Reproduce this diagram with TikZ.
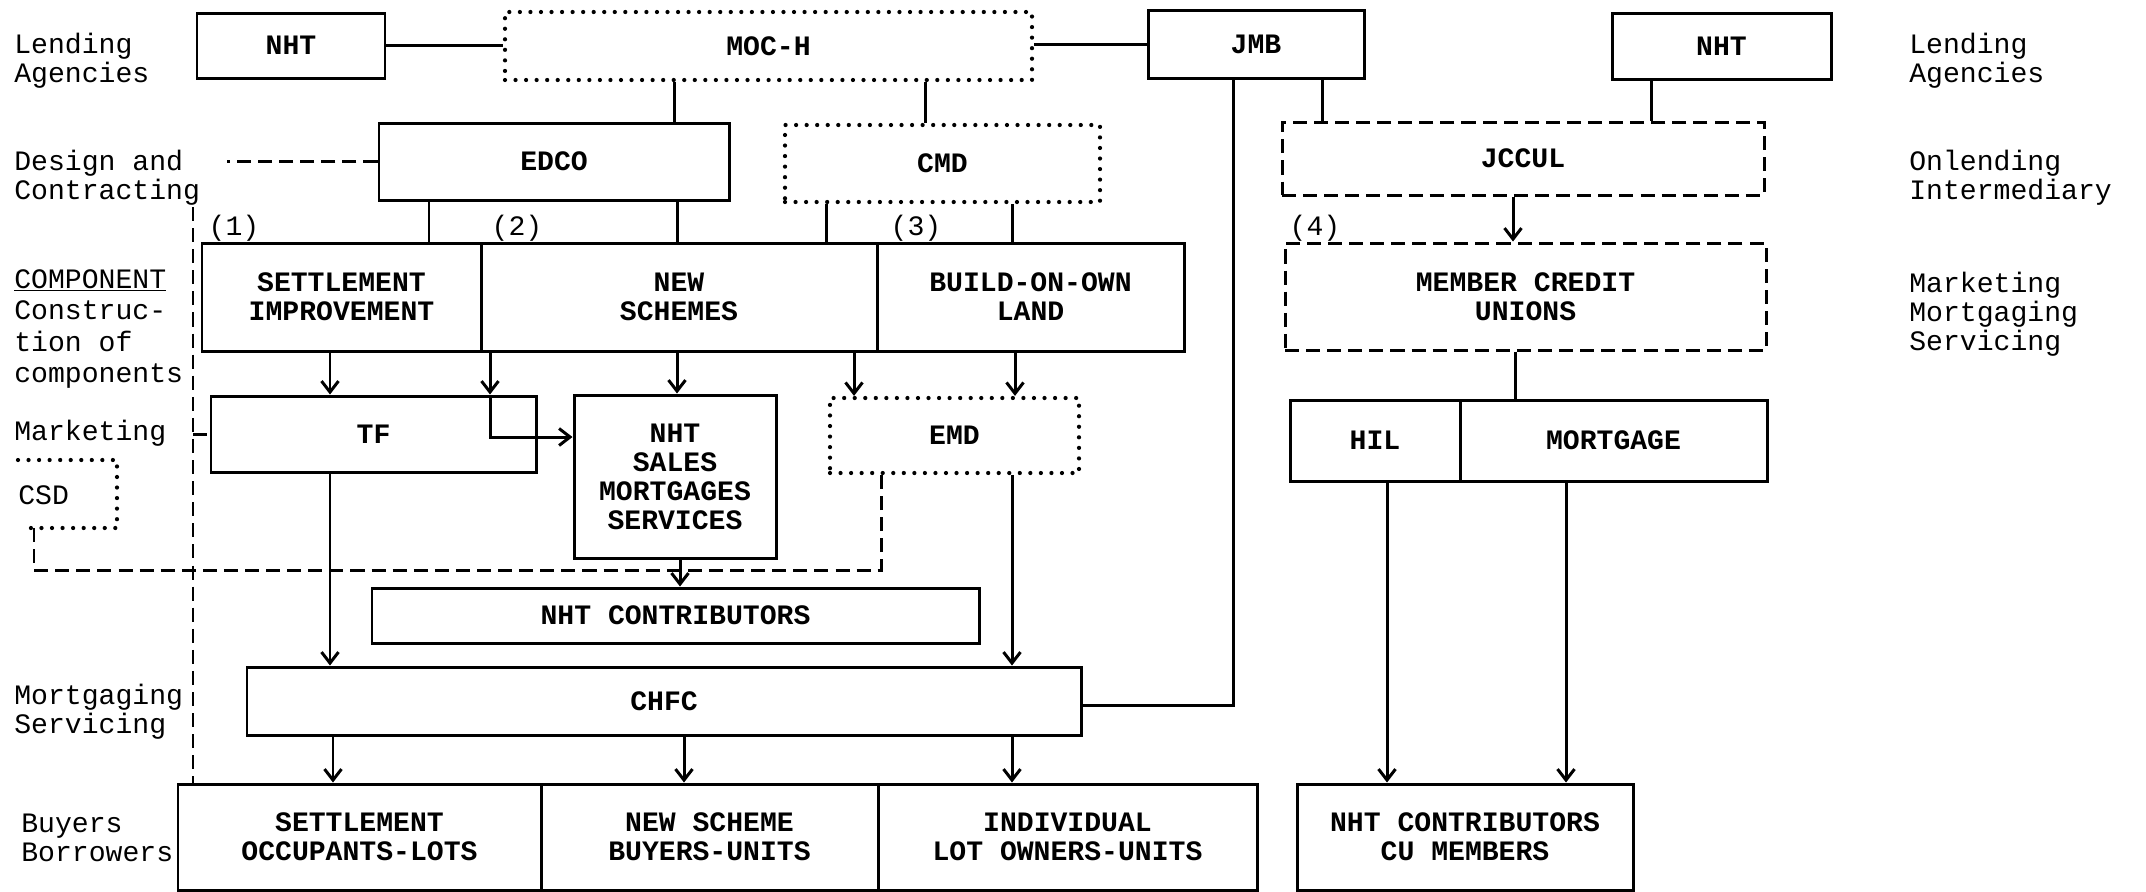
\documentclass[tikz,border=0pt]{standalone}
\usepackage{fontspec}
\setmonofont{Liberation Mono}
\usetikzlibrary{arrows.meta,positioning,calc}
\newcommand{\orgfont}{\ttfamily\fontsize{16}{16.5}\selectfont}
\tikzset{
  org/box/.style={draw, line width=1.7pt, inner sep=0pt, align=center, font=\orgfont\bfseries},
  org/span/.style args={#1/#2/#3/#4}{minimum width=(#3-#1)*0.2mm, minimum height=(#4-#2)*0.2mm,
    at={(#1/2+#3/2, #2/2+#4/2)}},
  org/dotbox/.style={org/box, line width=2.4pt, line cap=round, dash pattern=on 0pt off 6pt},
  org/dashbox/.style={org/box, dash pattern=on 8pt off 4pt},
  org/label/.style={anchor=west, align=left, inner sep=0pt, font=\orgfont},
  org/num/.style={inner sep=0pt, font=\orgfont},
  org/line/.style={line width=1.7pt},
  org/arrow/.style={org/line, -{Straight Barb[length=2.2mm,width=3.4mm]}},
  org/dashed/.style={line width=1.7pt, dash pattern=on 8pt off 4pt},
  org/dotted/.style={line width=2.4pt, line cap=round, dash pattern=on 0pt off 6pt}
}

\begin{document}
\begin{tikzpicture}[x=0.2mm, y=-0.2mm]
  \useasboundingbox (0,0) rectangle (2146,891);

  % lending agencies
  \node[org/box, org/span=197/13/385/78] (nit1) {NHT};
  \node[org/dotbox, org/span=505/12/1032/80] (moc) {MOC-H};
  \node[org/box, org/span=1148/10/1364/78] (jmb) {JMB};
  \node[org/box, org/span=1612/13/1831/79] (nit2) {NHT};

  % design and onlending
  \node[org/box, org/span=379/123/729/200] (edco) {EDCO};
  \node[org/dotbox, org/span=785/125/1100/202] (cmd) {CMD};
  \node[org/dashbox, org/span=1282/122/1764/195] (jccul) {JCCUL};

  % components
  \node[org/box, org/span=202/243/481/351] (sett) {SETTLEMENT\\IMPROVEMENT};
  \node[org/box, org/span=481/243/877/351] (new) {NEW\\SCHEMES};
  \node[org/box, org/span=877/243/1184/351] (bool) {BUILD-ON-OWN\\LAND};
  \node[org/dashbox, org/span=1285/243/1766/350] (mcu) {MEMBER CREDIT\\UNIONS};

  % marketing
  \node[org/box, org/span=211/396/536/472] (tf) {TF};
  \node[org/box, org/span=574/395/776/558] (nhts) {NHT\\SALES\\MORTGAGES\\SERVICES};
  \node[org/dotbox, org/span=830/398/1079/473] (emd) {EMD};
  \node[org/box, org/span=1290/400/1460/481] (hil) {HIL};
  \node[org/box, org/span=1460/400/1767/481] (mort) {MORTGAGE};

  \node[org/box, org/span=372/588/979/643] (nhtc) {NHT CONTRIBUTORS};
  \node[org/box, org/span=247/667/1081/735] (chfc) {CHFC};

  % buyers
  \node[org/box, org/span=178/784/541/890] (occ) {SETTLEMENT\\OCCUPANTS-LOTS};
  \node[org/box, org/span=541/784/878/890] (nsb) {NEW SCHEME\\BUYERS-UNITS};
  \node[org/box, org/span=878/784/1257/890] (ind) {INDIVIDUAL\\LOT OWNERS-UNITS};
  \node[org/box, org/span=1297/784/1633/890] (cum) {NHT CONTRIBUTORS\\CU MEMBERS};

  % level labels
  \node[org/label] (lendL) at (14,61) {Lending\\Agencies};
  \node[org/label] (desL) at (14,178) {Design and\\Contracting};
  \node[org/label, font=\ttfamily\fontsize{16}{18}\selectfont] (compL) at (14,329) {\underline{COMPONENT}\\Construc-\\tion of\\components};
  \node[org/label] (markL) at (14,433) {Marketing};
  \node[org/label] (csd) at (18,495) {CSD};
  \node[org/label] (mortL) at (14,712) {Mortgaging\\Servicing};
  \node[org/label] (buyL) at (21,838) {Buyers\\Borrowers};
  \node[org/label] (lendR) at (1909,61) {Lending\\Agencies};
  \node[org/label] (onlR) at (1909,178) {Onlending\\Intermediary};
  \node[org/label] (markR) at (1909,314) {Marketing\\Mortgaging\\Servicing};

  \node[org/num] (n1) at (234,228) {(1)};
  \node[org/num] (n2) at (517,228) {(2)};
  \node[org/num] (n3) at (916,228) {(3)};
  \node[org/num] (n4) at (1315,228) {(4)};

  % top links
  \draw[org/line] (nit1.east) -- (nit1.east -| moc.west);
  \draw[org/line] (moc.east |- jmb.west) -- (jmb.west);
  \draw[org/line] (674,0 |- moc.south) -- (674,0 |- edco.north);
  \draw[org/line] (925,0 |- moc.south) -- (925,0 |- cmd.north);
  \draw[org/line] (1322,0 |- jmb.south) -- (1322,0 |- jccul.north);
  \draw[org/line] (1651,0 |- nit2.south) -- (1651,0 |- jccul.north);
  \foreach \x in {429,677}
    \draw[org/line] (\x,0 |- edco.south) -- (\x,0 |- sett.north);
  \foreach \x in {826,1012}
    \draw[org/line] (\x,0 |- cmd.south) -- (\x,0 |- sett.north);
  \draw[org/arrow] (1513,0 |- jccul.south) -- (1513,0 |- mcu.north);

  % components to marketing
  \draw[org/arrow] (330,0 |- sett.south) -- (330,0 |- tf.north);
  \draw[org/arrow] (490,0 |- new.south) -- (490,0 |- tf.north);
  \draw[org/arrow] (490,0 |- tf.north) -- (490,437) -- (490,437 -| nhts.west);
  \draw[org/arrow] (677,0 |- new.south) -- (677,0 |- nhts.north);
  \draw[org/arrow] (854,0 |- new.south) -- (854,0 |- emd.north);
  \draw[org/arrow] (1015,0 |- bool.south) -- (1015,0 |- emd.north);
  \draw[org/line] (1515,0 |- mcu.south) -- (1515,0 |- mort.north);

  % marketing to mortgaging
  \draw[org/arrow] (330,0 |- tf.south) -- (330,0 |- chfc.north);
  \draw[org/arrow] (680,0 |- nhts.south) -- (680,0 |- nhtc.north);
  \draw[org/arrow] (1012,0 |- emd.south) -- (1012,0 |- chfc.north);
  \draw[org/line] (1233,0 |- jmb.south) -- (1233,705) -- (1233,705 -| chfc.east);
  \draw[org/arrow] (1387,0 |- hil.south) -- (1387,0 |- cum.north);
  \draw[org/arrow] (1566,0 |- mort.south) -- (1566,0 |- cum.north);
  \foreach \x in {333,684,1012}
    \draw[org/arrow] (\x,0 |- chfc.south) -- (\x,0 |- occ.north);

  % dashed design link
  \coordinate (dtop) at (193,207);
  \draw[org/dashed] (edco.west) -- (227,0 |- edco.west);
  \draw[org/dashed] (dtop) -- (dtop |- occ.north);
  \draw[org/dashed] (dtop |- tf.west) -- (tf.west);

  % CSD bracket
  \coordinate (csdnw) at (18,460);
  \coordinate (csdne) at (117,460);
  \coordinate (csdse) at (117,528);
  \coordinate (csdsw) at (23,528);
  \draw[org/dotted] (csdnw) -- (csdne) -- (csdse) -- (csdsw);
  \draw[org/dashed] (34,0 |- csdse) -- (34,570) -- (881,570) -- (881,0 |- emd.south);
\end{tikzpicture}
\end{document}
